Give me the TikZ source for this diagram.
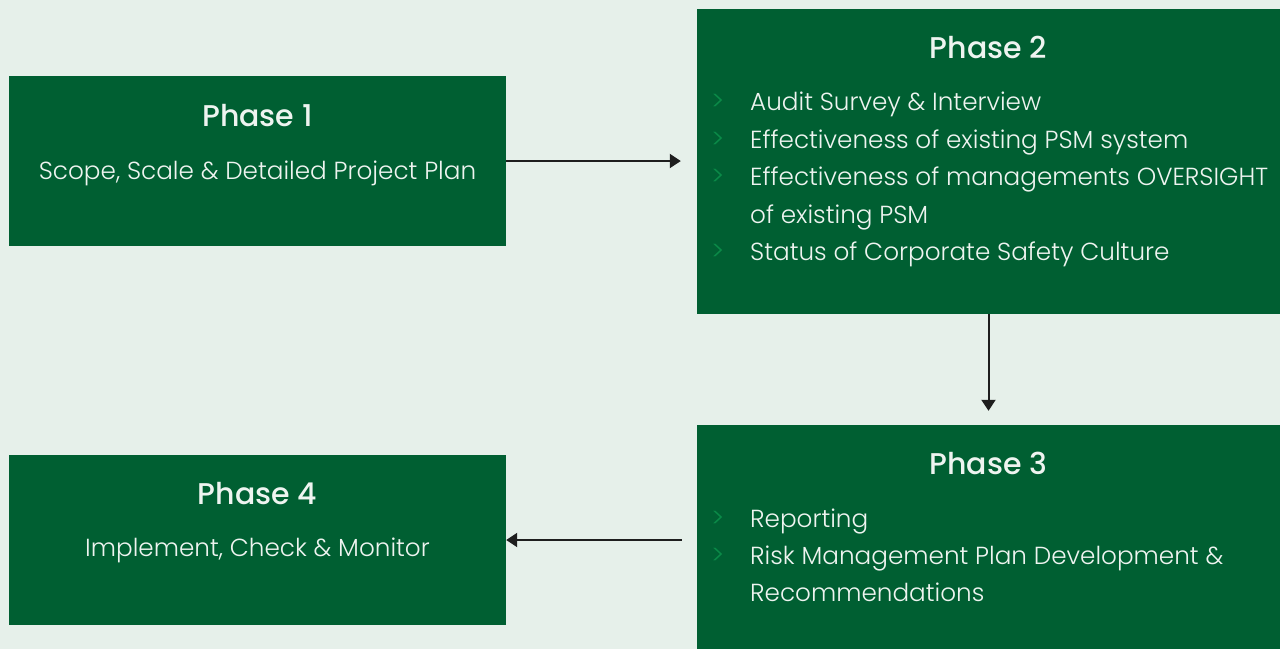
\documentclass[tikz,border=0pt]{standalone}
\usepackage{fontspec}
\setmainfont{Poppins}[UprightFont=* Light, BoldFont=* Medium]
\usetikzlibrary{arrows.meta}
\definecolor{bg}{HTML}{E6F0EA}
\definecolor{boxgreen}{HTML}{005F32}
\definecolor{bulletgreen}{HTML}{0B8A48}
\definecolor{txt}{HTML}{EEF4F0}
\definecolor{arrowc}{HTML}{1E1E1E}
\tikzset{
  phasebox/.style={fill=boxgreen, draw=none, rectangle, inner sep=0pt},
  title/.style={text=txt, font=\bfseries\fontsize{30}{34}\selectfont, inner sep=0pt, anchor=base},
  body/.style={text=txt, font=\fontsize{24.7}{37.5}\selectfont, inner sep=0pt},
  item/.style={body, anchor=base west},
  bullet/.style={text=bulletgreen, font=\fontsize{27}{30}\selectfont, inner sep=0pt, anchor=base west},
  link/.style={draw=arrowc, line width=2pt, -{Triangle[length=11pt,width=14pt]}}
}
\begin{document}
\begin{tikzpicture}[x=1pt, y=-1pt]
  \useasboundingbox (0,0) rectangle (1280,649);
  \fill[bg] (0,0) rectangle (1280,649);

  % phase boxes
  \node[phasebox, minimum width=497pt, minimum height=170pt] (p1) at (257.5,161) {};
  \node[phasebox, minimum width=583pt, minimum height=305pt] (p2) at (988.5,161.5) {};
  \node[phasebox, minimum width=583pt, minimum height=224pt] (p3) at (988.5,537) {};
  \node[phasebox, minimum width=497pt, minimum height=170pt] (p4) at (257.5,540) {};

  % Phase 1
  \node[title] (t1) at (257.5,126) {Phase 1};
  \node[body, anchor=base] (s1) at (257.5,179) {Scope, Scale \& Detailed Project Plan};

  % Phase 2
  \node[title] (t2) at (988.5,58) {Phase 2};
  \foreach \y/\n/\txt in {110/a/Audit Survey \& Interview,
                          148/b/Effectiveness of existing PSM system,
                          185/c/Effectiveness of managements OVERSIGHT,
                          260/e/Status of Corporate Safety Culture} {
    \node[bullet] (b2\n) at (711,\y) {>};
    \node[item] (i2\n) at (750,\y) {\txt};
  }
  \node[item] (i2d) at (750,223) {of existing PSM};

  % Phase 3
  \node[title] (t3) at (988.5,474) {Phase 3};
  \node[bullet] (b3a) at (711,527) {>};
  \node[item] (i3a) at (750,527) {Reporting};
  \node[bullet] (b3b) at (711,564) {>};
  \node[item] (i3b) at (750,564) {Risk Management Plan Development \&};
  \node[item] (i3c) at (750,601) {Recommendations};

  % Phase 4
  \node[title] (t4) at (257.5,504) {Phase 4};
  \node[body, anchor=base] (s4) at (257.5,556) {Implement, Check \& Monitor};

  % connectors
  \draw[link, shorten >=16pt] (p1.east) -- (p1.east -| p2.west);
  \draw[link, shorten >=14pt] (p2.south) -- (p2.south |- p3.north);
  \draw[link, shorten <=15pt] (p4.east -| p3.west) -- (p4.east);
\end{tikzpicture}
\end{document}
